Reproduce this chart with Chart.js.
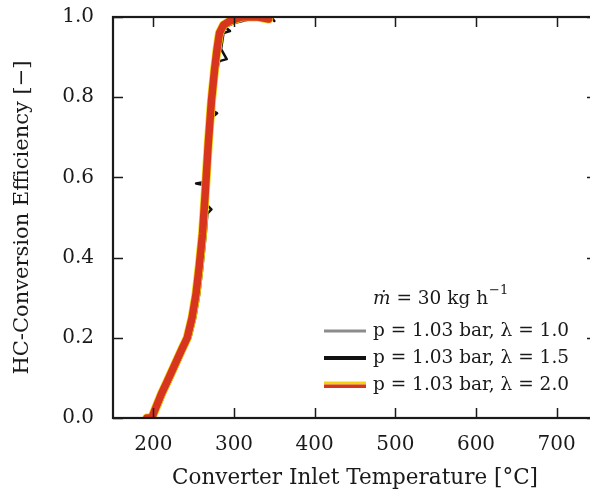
<!DOCTYPE html>
<html>
<head>
<meta charset="utf-8">
<script src="https://cdn.jsdelivr.net/npm/chart.js@4.4.1/dist/chart.umd.min.js"></script>
<style>
  html, body { margin: 0; padding: 0; background: #fff; overflow: hidden; }
  #wrap { width: 600px; height: 491px; }
</style>
</head>
<body>
<div id="wrap"><canvas id="hc"></canvas></div>
<script>
// ── data ────────────────────────────────────────────────────────────────────
const xTicks = [200, 300, 400, 500, 600, 700];
const yTicks = [0.0, 0.2, 0.4, 0.6, 0.8, 1.0];

// λ = 1.0 (grey)
const tempGrey = [194, 200, 206, 213, 220, 229, 237, 244, 250, 255, 259, 263, 266, 270, 274, 278, 281, 284, 289, 297, 312, 330, 342];
const effGrey  = [0.0, 0.01, 0.04, 0.07, 0.10, 0.14, 0.18, 0.21, 0.26, 0.32, 0.39, 0.47, 0.56, 0.69, 0.80, 0.87, 0.92, 0.96, 0.98, 0.99, 0.995, 1.0, 1.0];

// λ = 1.5 (black), incl. the short spikes that poke out of the red band
const tempBlack = [196, 202, 208, 214, 221, 230, 239, 246, 252, 257, 261, 265, 267, 272, 267, 266, 253, 267, 270, 273, 279, 274, 275, 279, 282, 291, 284, 287, 295, 289, 300, 321, 346, 350];
const effBlack  = [0.0, 0.01, 0.03, 0.06, 0.09, 0.13, 0.17, 0.20, 0.25, 0.31, 0.38, 0.46, 0.51, 0.52, 0.53, 0.58, 0.585, 0.59, 0.68, 0.75, 0.76, 0.765, 0.79, 0.87, 0.89, 0.895, 0.92, 0.96, 0.965, 0.975, 0.985, 0.995, 1.0, 0.99];

// λ = 2.0 (red with yellow edge)
const tempRed = [192, 198, 204, 210, 217, 226, 235, 242, 248, 253, 257, 261, 264, 268, 272, 276, 279, 282, 287, 295, 310, 330, 343];
const effRed  = [0.0, 0.0, 0.03, 0.06, 0.09, 0.13, 0.17, 0.20, 0.25, 0.31, 0.38, 0.46, 0.55, 0.68, 0.79, 0.87, 0.92, 0.96, 0.98, 0.99, 1.0, 1.0, 0.995];

const legendTitle = ['ṁ', ' = 30 kg h', '−1'];
const legendLabels = ['p = 1.03 bar, λ = 1.0', 'p = 1.03 bar, λ = 1.5', 'p = 1.03 bar, λ = 2.0'];

const SERIF = '"DejaVu Serif", "Liberation Serif", serif';
const INK = '#1a1a1a';
const toPts = (xs, ys) => xs.map((x, i) => ({ x, y: ys[i] }));

// ── plugins ────────────────────────────────────────────────────────────────
// inward tick marks on all four sides plus the closed frame
const frameTicks = {
  id: 'frameTicks',
  afterDatasetsDraw(chart) {
    const { ctx, chartArea: a, scales: { x, y } } = chart;
    const len = 10;
    ctx.save();
    ctx.strokeStyle = INK;
    ctx.lineWidth = 1.5;
    ctx.beginPath();
    xTicks.forEach(v => {
      const px = Math.round(x.getPixelForValue(v)) + 0.5;
      ctx.moveTo(px, a.bottom); ctx.lineTo(px, a.bottom - len);
      ctx.moveTo(px, a.top); ctx.lineTo(px, a.top + len);
    });
    yTicks.forEach(v => {
      const py = Math.round(y.getPixelForValue(v)) + 0.5;
      ctx.moveTo(a.left, py); ctx.lineTo(a.left + len, py);
      ctx.moveTo(a.right, py); ctx.lineTo(a.right - len, py);
    });
    ctx.stroke();
    ctx.lineWidth = 2.2;
    ctx.strokeRect(a.left, a.top, a.right - a.left, a.bottom - a.top);
    ctx.restore();
  }
};

// legend in the lower right, drawn like the LaTeX original
const mathLegend = {
  id: 'mathLegend',
  afterDraw(chart) {
    const { ctx } = chart;
    ctx.save();
    ctx.fillStyle = INK;
    ctx.textBaseline = 'middle';

    // title: ṁ = 30 kg h^-1
    let tx = 373, ty = 299;
    ctx.font = 'italic 18.5px ' + SERIF;
    ctx.fillText(legendTitle[0], tx, ty);
    tx += ctx.measureText(legendTitle[0]).width;
    ctx.font = '18.5px ' + SERIF;
    ctx.fillText(legendTitle[1], tx, ty);
    tx += ctx.measureText(legendTitle[1]).width;
    ctx.font = '13px ' + SERIF;
    ctx.fillText(legendTitle[2], tx + 1, ty - 8);

    const rows = [331, 358, 385];
    const x0 = 324, x1 = 366;
    rows.forEach((ry, i) => {
      if (i === 0) {
        ctx.fillStyle = '#8c8c8c'; ctx.fillRect(x0, ry - 1.5, x1 - x0, 3);
      } else if (i === 1) {
        ctx.fillStyle = '#111'; ctx.fillRect(x0, ry - 2, x1 - x0, 4);
      } else {
        ctx.fillStyle = '#f4d210'; ctx.fillRect(x0, ry - 3.5, x1 - x0, 3);
        ctx.fillStyle = '#d8351f'; ctx.fillRect(x0, ry - 0.5, x1 - x0, 3.5);
      }
      ctx.fillStyle = INK;
      ctx.font = '18.5px ' + SERIF;
      ctx.fillText(legendLabels[i], 373, ry);
    });
    ctx.restore();
  }
};

// ── chart ──────────────────────────────────────────────────────────────────
const lineBase = { showLine: true, pointRadius: 0, tension: 0, fill: false, borderJoinStyle: 'round', borderCapStyle: 'round' };

new Chart(document.getElementById('hc'), {
  type: 'scatter',
  data: {
    datasets: [
      { ...lineBase, order: 3, label: legendLabels[0], data: toPts(tempGrey, effGrey), borderColor: '#8c8c8c', borderWidth: 3 },
      { ...lineBase, order: 2, label: legendLabels[1], data: toPts(tempBlack, effBlack), borderColor: '#111', borderWidth: 2.5 },
      { ...lineBase, order: 1, label: '_edge', data: toPts(tempRed, effRed), borderColor: '#f4d210', borderWidth: 9 },
      { ...lineBase, order: 0, label: legendLabels[2], data: toPts(tempRed, effRed), borderColor: '#d8351f', borderWidth: 7.5 },
    ]
  },
  options: {
    animation: false,
    responsive: true,
    maintainAspectRatio: false,
    layout: { padding: { top: 17, right: 3, left: 0, bottom: 0 } },
    plugins: { legend: { display: false }, tooltip: { enabled: false } },
    scales: {
      x: {
        type: 'linear', min: 150, max: 750,
        grid: { display: false },
        border: { display: false },
        afterBuildTicks: s => { s.ticks = xTicks.map(v => ({ value: v })); },
        afterFit: s => { s.height = 73; s.paddingLeft = 0; s.paddingRight = 0; },
        ticks: { color: INK, font: { family: SERIF, size: 20 }, padding: 7, maxRotation: 0 },
        title: { display: true, text: 'Converter Inlet Temperature [°C]', color: INK, font: { family: SERIF, size: 21.5 }, padding: { top: 0, bottom: 0 } }
      },
      y: {
        type: 'linear', min: 0, max: 1,
        grid: { display: false },
        border: { display: false },
        afterBuildTicks: s => { s.ticks = yTicks.map(v => ({ value: v })); },
        afterFit: s => { s.width = 113; s.paddingTop = 0; s.paddingBottom = 0; },
        ticks: { color: INK, font: { family: SERIF, size: 20 }, padding: 11, callback: v => v.toFixed(1) },
        title: { display: true, text: 'HC-Conversion Efficiency [−]', color: INK, font: { family: SERIF, size: 21 }, padding: { top: 10, bottom: 0 } }
      }
    }
  },
  plugins: [frameTicks, mathLegend]
});
</script>
</body>
</html>
